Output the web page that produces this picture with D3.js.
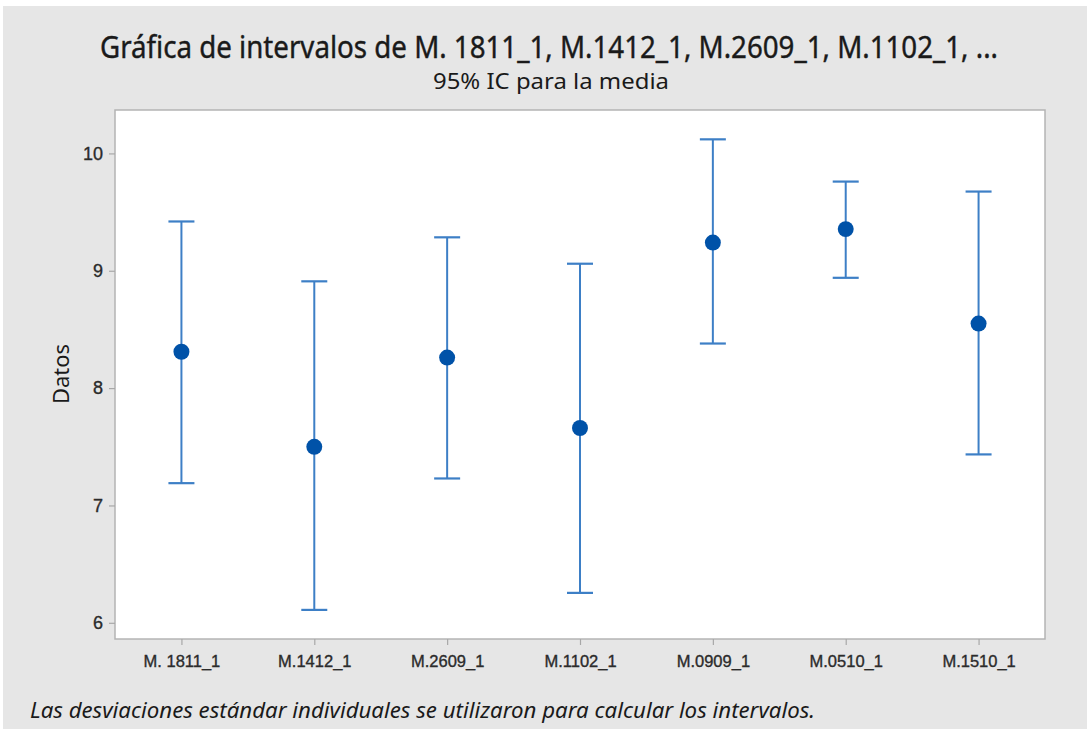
<!DOCTYPE html>
<html>
<head>
<meta charset="utf-8">
<script src="https://cdn.jsdelivr.net/npm/d3@7"></script>
<style>
  body { margin: 0; background: #ffffff; }
  svg { display: block; font-family: "Noto Sans", "Open Sans", sans-serif; }
</style>
</head>
<body>
<svg id="chart" width="1087" height="729"></svg>
<script>
// datos
const muestras = ["M. 1811_1", "M.1412_1", "M.2609_1", "M.1102_1", "M.0909_1", "M.0510_1", "M.1510_1"]
const medias   = [8.31, 7.50, 8.26, 7.66, 9.24, 9.355, 8.55]
const inferior = [7.19, 6.11, 7.23, 6.255, 8.38, 8.94, 7.435]
const superior = [9.42, 8.91, 9.285, 9.06, 10.12, 9.76, 9.675]
const yTicks   = [6, 7, 8, 9, 10]

const width = 1087, height = 729
const plot = { left: 115, top: 110, right: 1045, bottom: 639 }

const svg = d3.select('#chart')

// fondo gris
svg.append('rect')
    .attr('x', 3).attr('y', 6)
    .attr('width', width - 3).attr('height', height - 6)
    .attr('fill', '#e6e6e6')

svg.append('rect')
    .attr('x', plot.left).attr('y', plot.top)
    .attr('width', plot.right - plot.left).attr('height', plot.bottom - plot.top)
    .attr('fill', '#ffffff')
    .attr('stroke', '#b4b4b4')
    .attr('stroke-width', 1.5)

const x = d3.scalePoint()
    .domain(muestras)
    .range([plot.left, plot.right])
    .padding(0.5)

const y = d3.scaleLinear()
    .domain([5.862, 10.37])
    .range([plot.bottom, plot.top])

const yAxis = svg.append('g')
    .attr('transform', `translate(${plot.left},0)`)
    .call(d3.axisLeft(y).tickValues(yTicks).tickFormat(d3.format('d')).tickSize(6).tickPadding(6))
yAxis.select('.domain').remove()

const xAxis = svg.append('g')
    .attr('transform', `translate(0,${plot.bottom})`)
    .call(d3.axisBottom(x).tickSize(6).tickPadding(10))
xAxis.select('.domain').remove()

svg.selectAll('.tick line').attr('stroke', '#a8a8a8').attr('stroke-width', 1.2)
svg.selectAll('.tick text')
    .attr('fill', '#2b2b2b')
    .attr('stroke', '#2b2b2b')
    .attr('stroke-width', 0.35)
    .style('font-size', '16.5px')
yAxis.selectAll('.tick text').style('font-size', '18px')

const datos = muestras.map((m, i) => ({ m, media: medias[i], lo: inferior[i], hi: superior[i] }))

const grupos = svg.append('g').selectAll('g')
    .data(datos)
    .join('g')

const azul = '#3d7fc6'
const capW = 13

grupos.append('line')
    .attr('x1', d => x(d.m)).attr('x2', d => x(d.m))
    .attr('y1', d => y(d.lo)).attr('y2', d => y(d.hi))
    .attr('stroke', azul).attr('stroke-width', 2)

grupos.append('line')
    .attr('x1', d => x(d.m) - capW).attr('x2', d => x(d.m) + capW)
    .attr('y1', d => y(d.hi)).attr('y2', d => y(d.hi))
    .attr('stroke', azul).attr('stroke-width', 2.2)

grupos.append('line')
    .attr('x1', d => x(d.m) - capW).attr('x2', d => x(d.m) + capW)
    .attr('y1', d => y(d.lo)).attr('y2', d => y(d.lo))
    .attr('stroke', azul).attr('stroke-width', 2.2)

grupos.append('path')
    .attr('transform', d => `translate(${x(d.m)},${y(d.media)})`)
    .attr('d', d3.symbol(d3.symbolCircle, 200))
    .attr('fill', '#0052a8')

// textos
svg.append('text')
    .attr('x', 549).attr('y', 58)
    .attr('text-anchor', 'middle')
    .attr('textLength', 898)
    .attr('lengthAdjust', 'spacingAndGlyphs')
    .style('font-size', '30px')
    .attr('fill', '#1a1a1a')
    .attr('stroke', '#1a1a1a')
    .attr('stroke-width', 0.4)
    .text('Gráfica de intervalos de M. 1811_1, M.1412_1, M.2609_1, M.1102_1, ...')

svg.append('text')
    .attr('x', 551).attr('y', 89)
    .attr('text-anchor', 'middle')
    .attr('textLength', 236)
    .attr('lengthAdjust', 'spacingAndGlyphs')
    .style('font-size', '22px')
    .attr('fill', '#1a1a1a')
    .text('95% IC para la media')

svg.append('text')
    .attr('transform', 'translate(69,374) rotate(-90)')
    .attr('text-anchor', 'middle')
    .style('font-size', '22px')
    .attr('fill', '#1a1a1a')
    .text('Datos')

svg.append('text')
    .attr('x', 30).attr('y', 718)
    .attr('textLength', 785)
    .attr('lengthAdjust', 'spacingAndGlyphs')
    .style('font-size', '21px')
    .style('font-style', 'italic')
    .attr('fill', '#1a1a1a')
    .text('Las desviaciones estándar individuales se utilizaron para calcular los intervalos.')
</script>
</body>
</html>
